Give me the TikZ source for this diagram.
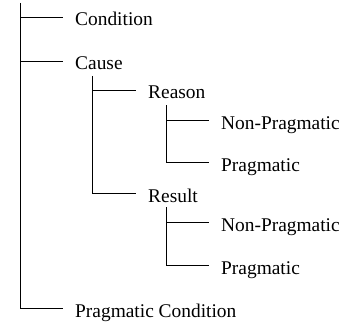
\documentclass[tikz,border=0pt]{standalone}
\usepackage{fontspec}
\setmainfont{Liberation Serif}
\begin{document}
\begin{tikzpicture}[x=1pt,y=-1pt,
  lbl/.style={anchor=west,inner xsep=12pt,inner ysep=0pt,text height=18pt,text depth=0pt,font=\fontsize{19.4}{22}\selectfont},
  branch/.style={line width=0.9pt}]
\useasboundingbox (0,0) rectangle (356,329);
\node[lbl] (cond) at (63,17) {Condition};
\node[lbl] (cause) at (63,61) {Cause};
\node[lbl] (reason) at (136,90) {Reason};
\node[lbl] (result) at (136,193) {Result};
\node[lbl] (np1) at (209,120) {Non-Pragmatic};
\node[lbl] (p1) at (209,162) {Pragmatic};
\node[lbl] (np2) at (209,222) {Non-Pragmatic};
\node[lbl] (p2) at (209,265) {Pragmatic};
\node[lbl] (pcond) at (63,308) {Pragmatic Condition};
\coordinate (t0) at (20,3);
\coordinate (t1) at (92,76);
\coordinate (t2) at (166,105);
\coordinate (t3) at (166,207);
\draw[branch] (t0) |- (pcond.west);
\draw[branch] (t0 |- cond.west) -- (cond.west);
\draw[branch] (t0 |- cause.west) -- (cause.west);
\draw[branch] (t1) |- (result.west);
\draw[branch] (t1 |- reason.west) -- (reason.west);
\draw[branch] (t2) |- (p1.west);
\draw[branch] (t2 |- np1.west) -- (np1.west);
\draw[branch] (t3) |- (p2.west);
\draw[branch] (t3 |- np2.west) -- (np2.west);
\end{tikzpicture}
\end{document}
